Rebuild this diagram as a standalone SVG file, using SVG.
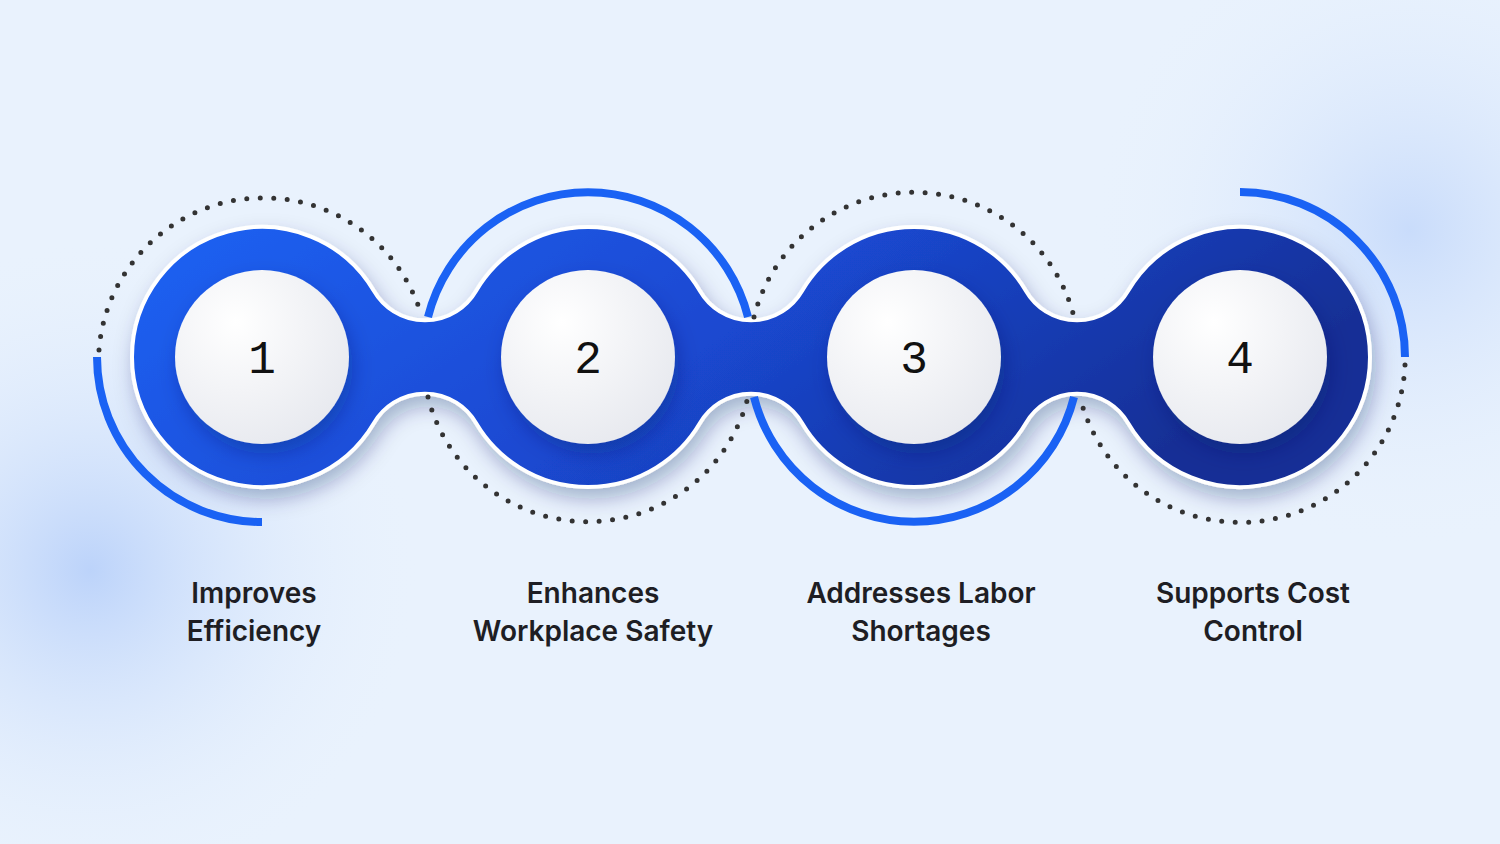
<svg xmlns="http://www.w3.org/2000/svg" width="1500" height="844" viewBox="0 0 1500 844">
<defs>
<radialGradient id="b1" cx="90" cy="570" r="330" gradientUnits="userSpaceOnUse"><stop offset="0" stop-color="#bcd3fa"/><stop offset="1" stop-color="#e9f2fd" stop-opacity="0"/></radialGradient>
<radialGradient id="b2" cx="1410" cy="230" r="320" gradientUnits="userSpaceOnUse"><stop offset="0" stop-color="#c9dcfb"/><stop offset="1" stop-color="#e9f2fd" stop-opacity="0"/></radialGradient>
<linearGradient id="chain" x1="0" y1="0" x2="1" y2="0.3"><stop offset="0" stop-color="#1a62f4"/><stop offset="0.55" stop-color="#1a48d0"/><stop offset="1" stop-color="#152f96"/></linearGradient>
<radialGradient id="white" cx="0.35" cy="0.3" r="0.8"><stop offset="0" stop-color="#ffffff"/><stop offset="1" stop-color="#e6e8ee"/></radialGradient>
<filter id="sh" x="-20%" y="-20%" width="140%" height="150%"><feDropShadow dx="4" dy="10" stdDeviation="10" flood-color="#0a1a60" flood-opacity="0.3"/></filter>
<style>
.dot{fill:none;stroke:#333;stroke-width:5;stroke-linecap:round;stroke-dasharray:0 13.5}
.arc{fill:none;stroke:#1a62f4;stroke-width:8}
.num{font-family:"Liberation Mono","DejaVu Sans Mono",monospace;font-size:46px;fill:#111;text-anchor:middle}
.lbl{font-family:Inter,"Liberation Sans",sans-serif;font-size:28px;font-weight:600;fill:#1e1e24;text-anchor:middle}
.inner{fill:url(#white);filter:url(#sh)}
</style>
</defs>
<rect width="1500" height="844" fill="#e9f2fd"/>
<rect width="1500" height="844" fill="url(#b1)"/>
<rect width="1500" height="844" fill="url(#b2)"/>
<g id="chain-shape">
<path filter="url(#sh)" fill="url(#chain)" stroke="#ffffff" stroke-width="4" d="M132 357 A130 130 0 0 1 374 291 A59 59 0 0 0 476 291 A130 130 0 0 1 700 291 A59 59 0 0 0 802 291 A130 130 0 0 1 1026 291 A59 59 0 0 0 1128 291 A130 130 0 0 1 1370 357 A130 130 0 0 1 1128 423 A59 59 0 0 0 1026 423 A130 130 0 0 1 802 423 A59 59 0 0 0 700 423 A130 130 0 0 1 476 423 A59 59 0 0 0 374 423 A130 130 0 0 1 132 357 Z"/>
</g>
<g id="connectors">
<path class="dot" d="M99 350 A165 165 0 0 1 422 317"/>
<path class="arc" d="M97 357 A165 165 0 0 0 262 522"/>
<path class="arc" d="M428 317 A165 165 0 0 1 748 317"/>
<path class="dot" d="M428 397 A165 165 0 0 0 748 397"/>
<path class="dot" d="M754 317 A165 165 0 0 1 1074 317"/>
<path class="arc" d="M754 397 A165 165 0 0 0 1074 397"/>
<path class="arc" d="M1240 192 A165 165 0 0 1 1405 357"/>
<path class="dot" d="M1405 365 A165 165 0 0 1 1080 397"/>
</g>
<g id="node1"><circle class="inner" cx="262" cy="357" r="87"/><text class="num" x="262" y="373">1</text><text class="lbl" x="254" y="603">Improves</text><text class="lbl" x="254" y="641">Efficiency</text></g>
<g id="node2"><circle class="inner" cx="588" cy="357" r="87"/><text class="num" x="588" y="373">2</text><text class="lbl" x="593" y="603">Enhances</text><text class="lbl" x="593" y="641">Workplace Safety</text></g>
<g id="node3"><circle class="inner" cx="914" cy="357" r="87"/><text class="num" x="914" y="373">3</text><text class="lbl" x="921" y="603">Addresses Labor</text><text class="lbl" x="921" y="641">Shortages</text></g>
<g id="node4"><circle class="inner" cx="1240" cy="357" r="87"/><text class="num" x="1240" y="373">4</text><text class="lbl" x="1253" y="603">Supports Cost</text><text class="lbl" x="1253" y="641">Control</text></g>
</svg>
